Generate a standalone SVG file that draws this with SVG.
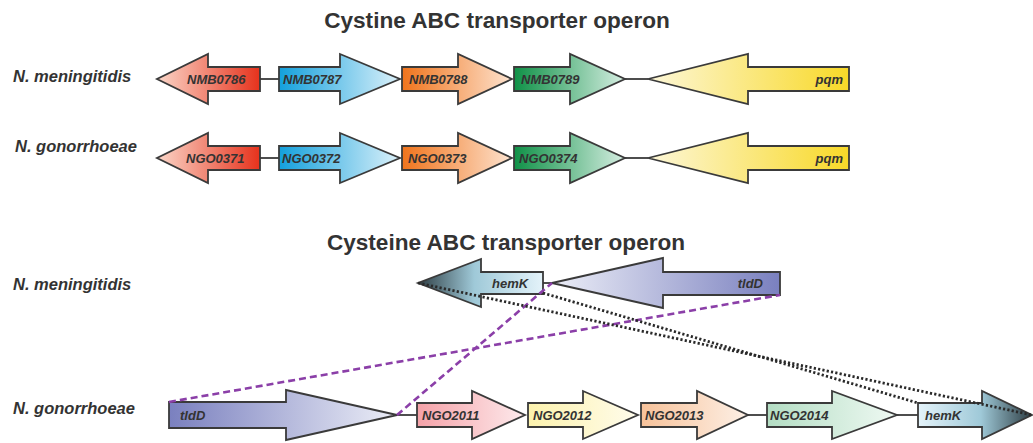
<svg xmlns="http://www.w3.org/2000/svg" width="1033" height="443" viewBox="0 0 1033 443">
<style>
.title{font-family:"Liberation Sans",Arial,sans-serif;font-weight:bold;font-size:22.6px;fill:#333;text-anchor:middle}
.sp{font-family:"Liberation Sans",Arial,sans-serif;font-weight:bold;font-style:italic;font-size:16.5px;fill:#333}
.g{font-family:"Liberation Sans",Arial,sans-serif;font-weight:bold;font-style:italic;font-size:13px;fill:#333}
.gr{text-anchor:end}
.arr{stroke:#3a3a3a;stroke-width:1.8;stroke-linejoin:miter}
.ln{stroke:#3a3a3a;stroke-width:1.8;fill:none}
.pur{stroke:#8b3fa8;stroke-width:2.6;stroke-dasharray:7 4;fill:none}
.dot{stroke:#2a2a2a;stroke-width:2.8;stroke-dasharray:2.2 2.2;fill:none}
</style>
<defs>
<linearGradient id="gRed" x1="0" x2="1" y1="0" y2="0"><stop offset="0" stop-color="#fbd6c8"/><stop offset="1" stop-color="#e6321c"/></linearGradient>
<linearGradient id="gBlue" x1="0" x2="1" y1="0" y2="0"><stop offset="0" stop-color="#13a0dc"/><stop offset="1" stop-color="#dcf1fa"/></linearGradient>
<linearGradient id="gOrange" x1="0" x2="1" y1="0" y2="0"><stop offset="0" stop-color="#f0741c"/><stop offset="1" stop-color="#fde3cf"/></linearGradient>
<linearGradient id="gGreen" x1="0" x2="1" y1="0" y2="0"><stop offset="0" stop-color="#0f9147"/><stop offset="1" stop-color="#d6eee2"/></linearGradient>
<linearGradient id="gYellow" x1="0" x2="1" y1="0" y2="0"><stop offset="0" stop-color="#fdf7d8"/><stop offset="1" stop-color="#f8d928"/></linearGradient>
<linearGradient id="gTldL" x1="0" x2="1" y1="0" y2="0"><stop offset="0" stop-color="#eceef7"/><stop offset="1" stop-color="#7a80bf"/></linearGradient>
<linearGradient id="gTldR" x1="0" x2="1" y1="0" y2="0"><stop offset="0" stop-color="#7a80bf"/><stop offset="1" stop-color="#eceef7"/></linearGradient>
<linearGradient id="gHemL" x1="0" x2="1" y1="0" y2="0"><stop offset="0" stop-color="#2e3e44"/><stop offset="0.45" stop-color="#9fc9d8"/><stop offset="1" stop-color="#e4f3fa"/></linearGradient>
<linearGradient id="gHemR" x1="0" x2="1" y1="0" y2="0"><stop offset="0" stop-color="#e4f3fa"/><stop offset="0.55" stop-color="#9fc9d8"/><stop offset="1" stop-color="#2e3e44"/></linearGradient>
<linearGradient id="gPink" x1="0" x2="1" y1="0" y2="0"><stop offset="0" stop-color="#f5a2a8"/><stop offset="1" stop-color="#fdeaec"/></linearGradient>
<linearGradient id="gLY" x1="0" x2="1" y1="0" y2="0"><stop offset="0" stop-color="#fcf2ad"/><stop offset="1" stop-color="#fffcec"/></linearGradient>
<linearGradient id="gLO" x1="0" x2="1" y1="0" y2="0"><stop offset="0" stop-color="#f7c29a"/><stop offset="1" stop-color="#fdf0e6"/></linearGradient>
<linearGradient id="gLG" x1="0" x2="1" y1="0" y2="0"><stop offset="0" stop-color="#b3ddc3"/><stop offset="1" stop-color="#eff9f3"/></linearGradient>
</defs>

<text class="title" x="497" y="28">Cystine ABC transporter operon</text>
<text class="title" x="506" y="250">Cysteine ABC transporter operon</text>

<text class="sp" x="13" y="82">N. meningitidis</text>
<text class="sp" x="15" y="152">N. gonorrhoeae</text>
<text class="sp" x="13" y="290">N. meningitidis</text>
<text class="sp" x="13" y="414">N. gonorrhoeae</text>

<g id="connectors">
<line class="ln" x1="260" y1="79" x2="279" y2="79"/>
<line class="ln" x1="625" y1="79" x2="648" y2="79"/>
<line class="ln" x1="260" y1="158" x2="279" y2="158"/>
<line class="ln" x1="625" y1="158" x2="648" y2="158"/>
<line class="ln" x1="543" y1="283" x2="552" y2="283"/>
<line class="ln" x1="397" y1="415" x2="417" y2="415"/>
<line class="ln" x1="748" y1="415" x2="767" y2="415"/>
<line class="ln" x1="897" y1="415" x2="918" y2="415"/>
</g>

<g id="nmb0786"><path class="arr" fill="url(#gRed)" d="M260,67 L208,67 L208,54 L157,79 L208,104 L208,91 L260,91 Z"/><text class="g" x="187" y="83.5">NMB0786</text></g>
<g id="nmb0787"><path class="arr" fill="url(#gBlue)" d="M279,67 L340,67 L340,54 L400,79 L340,104 L340,91 L279,91 Z"/><text class="g" x="283" y="83.5">NMB0787</text></g>
<g id="nmb0788"><path class="arr" fill="url(#gOrange)" d="M402,67 L458,67 L458,54 L512,79 L458,104 L458,91 L402,91 Z"/><text class="g" x="409" y="83.5">NMB0788</text></g>
<g id="nmb0789"><path class="arr" fill="url(#gGreen)" d="M514,67 L570,67 L570,54 L625,79 L570,104 L570,91 L514,91 Z"/><text class="g" x="521" y="83.5">NMB0789</text></g>
<g id="nm_pqm"><path class="arr" fill="url(#gYellow)" d="M849,67 L748,67 L748,54 L648,79 L748,104 L748,91 L849,91 Z"/><text class="g gr" x="843" y="83.5">pqm</text></g>

<g id="ngo0371"><path class="arr" fill="url(#gRed)" d="M260,146 L208,146 L208,133 L157,158 L208,183 L208,170 L260,170 Z"/><text class="g" x="186" y="162.5">NGO0371</text></g>
<g id="ngo0372"><path class="arr" fill="url(#gBlue)" d="M279,146 L340,146 L340,133 L400,158 L340,183 L340,170 L279,170 Z"/><text class="g" x="282" y="162.5">NGO0372</text></g>
<g id="ngo0373"><path class="arr" fill="url(#gOrange)" d="M402,146 L458,146 L458,133 L512,158 L458,183 L458,170 L402,170 Z"/><text class="g" x="408" y="162.5">NGO0373</text></g>
<g id="ngo0374"><path class="arr" fill="url(#gGreen)" d="M514,146 L570,146 L570,133 L625,158 L570,183 L570,170 L514,170 Z"/><text class="g" x="519" y="162.5">NGO0374</text></g>
<g id="ng_pqm"><path class="arr" fill="url(#gYellow)" d="M849,146 L748,146 L748,133 L648,158 L748,183 L748,170 L849,170 Z"/><text class="g gr" x="843" y="162.5">pqm</text></g>

<g id="nm_hemK"><path class="arr" fill="url(#gHemL)" d="M543,272 L481,272 L481,259 L418,283 L481,307 L481,294 L543,294 Z"/><text class="g" x="492" y="288">hemK</text></g>
<g id="nm_tldD"><path class="arr" fill="url(#gTldL)" d="M780,272 L663,272 L663,258 L552,283 L663,308 L663,295 L780,295 Z"/><text class="g gr" x="763" y="288">tldD</text></g>

<g id="ng_tldD"><path class="arr" fill="url(#gTldR)" d="M169,402 L286,402 L286,390 L397,415 L286,440 L286,428 L169,428 Z"/><text class="g" x="180" y="420">tldD</text></g>
<g id="ngo2011"><path class="arr" fill="url(#gPink)" d="M417,403 L472,403 L472,391 L525,415 L472,439 L472,427 L417,427 Z"/><text class="g" x="422" y="420">NGO2011</text></g>
<g id="ngo2012"><path class="arr" fill="url(#gLY)" d="M528,403 L583,403 L583,391 L638,415 L583,439 L583,427 L528,427 Z"/><text class="g" x="533" y="420">NGO2012</text></g>
<g id="ngo2013"><path class="arr" fill="url(#gLO)" d="M641,403 L697,403 L697,391 L748,415 L697,439 L697,427 L641,427 Z"/><text class="g" x="645" y="420">NGO2013</text></g>
<g id="ngo2014"><path class="arr" fill="url(#gLG)" d="M767,403 L832,403 L832,391 L897,415 L832,439 L832,427 L767,427 Z"/><text class="g" x="770" y="420">NGO2014</text></g>
<g id="ng_hemK"><path class="arr" fill="url(#gHemR)" d="M918,403 L982,403 L982,391 L1032,415 L982,439 L982,427 L918,427 Z"/><text class="g" x="925" y="420">hemK</text></g>

<g id="homology">
<line class="pur" x1="169" y1="402" x2="780" y2="295"/>
<line class="pur" x1="397" y1="415" x2="552" y2="283"/>
<line class="dot" x1="418" y1="283" x2="1032" y2="415"/>
<line class="dot" x1="543" y1="293" x2="918" y2="403"/>
</g>
</svg>
